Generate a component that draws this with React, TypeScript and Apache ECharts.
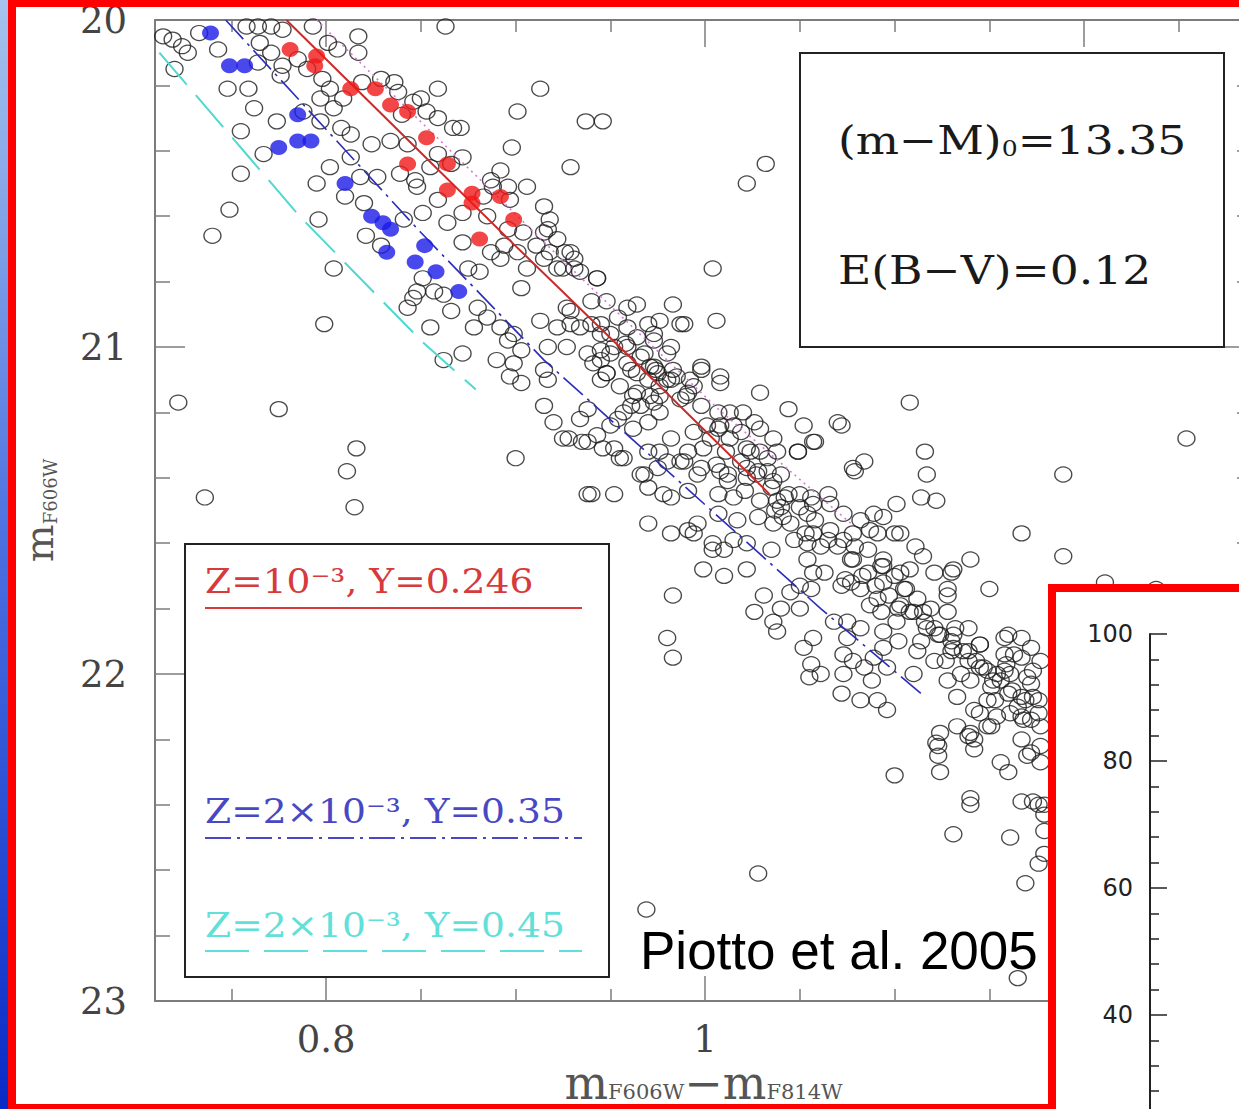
import React, { useEffect, useRef } from "react";
import * as echarts from "echarts";

// ---- axis ticks / labels ----
const xMinorTicks = [0.75, 0.85, 0.9, 0.95, 1.05, 1.1, 1.15, 1.25];
const xMajorTicks = [0.8, 1.0, 1.2];
const xLabelValues = [0.8, 1.0];
const yTickRange = [20, 23];
const insetRange = [0, 100];

// ---- texts ----
const legendLabels = ["Z=10⁻³, Y=0.246", "Z=2×10⁻³, Y=0.35", "Z=2×10⁻³, Y=0.45"];
const annotationLines = ["(m−M){sub|0}=13.35", "E(B−V)=0.12"];
const creditText = "Piotto et al. 2005";

// ---- isochrones [colour, magnitude] ----
const isoRed = [[0.779, 20.0], [0.842, 20.36], [0.898, 20.68], [0.962, 21.04], [1.034, 21.45]];
const isoMagenta = [[0.795, 20.0], [0.924, 20.73], [1.007, 21.19], [1.077, 21.54]];
const isoBlue = [[0.747, 20.0], [0.85, 20.65], [0.915, 21.04], [1.061, 21.8], [1.116, 22.07]];
const isoCyan = [[0.712, 20.1], [0.786, 20.6], [0.85, 20.98], [0.879, 21.13]];

// ---- highlighted stars ----
const redStars = [
  [0.781, 20.09], [0.795, 20.11], [0.794, 20.14], [0.813, 20.21], [0.826, 20.21], [0.834, 20.26],
  [0.843, 20.28], [0.853, 20.36], [0.843, 20.44], [0.864, 20.44], [0.864, 20.52], [0.877, 20.53],
  [0.877, 20.56], [0.892, 20.54], [0.899, 20.61], [0.881, 20.67],
];
const blueStars = [
  [0.739, 20.04], [0.749, 20.14], [0.757, 20.14], [0.785, 20.29], [0.775, 20.39], [0.785, 20.37],
  [0.792, 20.37], [0.81, 20.5], [0.824, 20.6], [0.83, 20.62], [0.834, 20.64], [0.832, 20.71],
  [0.852, 20.69], [0.847, 20.74], [0.858, 20.77], [0.87, 20.83],
];

// ---- all other stars ----
const stars = [
  [0.714, 20.05], [0.719, 20.06], [0.724, 20.08], [0.727, 20.10], [0.720, 20.15], [0.733, 20.04], [0.743, 20.09], [0.748, 20.21], [0.759, 20.21], [0.762, 20.27],
  [0.774, 20.31], [0.755, 20.34], [0.767, 20.41], [0.755, 20.47], [0.749, 20.58], [0.740, 20.66], [0.796, 20.61], [0.804, 20.76], [0.799, 20.93], [0.795, 20.50],
  [0.758, 20.02], [0.764, 20.02], [0.771, 20.02], [0.777, 20.03], [0.793, 20.02], [0.817, 20.05], [0.863, 20.02], [0.817, 20.10], [0.806, 20.09], [0.801, 20.07],
  [0.765, 20.07], [0.771, 20.10], [0.777, 20.14], [0.785, 20.12], [0.790, 20.15], [0.764, 20.13], [0.776, 20.17], [0.798, 20.18], [0.802, 20.21], [0.797, 20.24],
  [0.804, 20.27], [0.809, 20.24], [0.819, 20.19], [0.829, 20.18], [0.836, 20.19], [0.838, 20.22], [0.859, 20.21], [0.850, 20.24], [0.853, 20.28], [0.846, 20.25],
  [0.840, 20.29], [0.859, 20.30], [0.867, 20.33], [0.901, 20.28], [0.913, 20.21], [0.937, 20.31], [0.946, 20.31], [0.929, 20.45], [0.898, 20.39], [0.872, 20.42],
  [0.866, 20.44], [0.859, 20.41], [0.855, 20.45], [0.843, 20.38], [0.834, 20.37], [0.824, 20.38], [0.813, 20.35], [0.808, 20.33], [0.797, 20.31], [0.788, 20.28],
  [0.802, 20.45], [0.813, 20.42], [0.818, 20.48], [0.827, 20.48], [0.810, 20.54], [0.820, 20.56], [0.821, 20.66], [0.829, 20.69], [0.841, 20.61], [0.851, 20.59],
  [0.864, 20.62], [0.839, 20.47], [0.848, 20.51], [0.859, 20.55], [0.872, 20.59], [0.883, 20.54], [0.887, 20.49], [0.892, 20.46], [0.896, 20.51], [0.897, 20.55],
  [0.906, 20.51], [0.915, 20.57], [0.918, 20.61], [0.915, 20.65], [0.904, 20.65], [0.894, 20.69], [0.901, 20.71], [0.911, 20.69], [0.922, 20.67], [0.929, 20.71],
  [0.925, 20.76], [0.915, 20.73], [0.872, 20.68], [0.875, 20.76], [0.881, 20.77], [0.851, 20.79], [0.848, 20.83], [0.903, 20.82], [0.862, 20.84],
  [0.722, 21.17], [0.775, 21.19], [0.736, 21.46], [0.816, 21.31], [0.811, 21.38], [0.815, 21.49],
  [0.846, 20.85], [0.843, 20.88], [0.857, 20.83], [0.855, 20.94], [0.866, 20.89],
  [1.022, 20.50], [1.032, 20.44], [1.004, 20.76], [1.006, 20.92],
  [0.871, 20.33], [0.847, 20.49], [0.888, 20.51], [0.885, 20.60], [0.896, 20.64], [0.917, 20.64], [0.918, 20.71], [0.931, 20.76], [0.922, 20.76], [0.906, 20.76],
  [0.892, 20.73], [0.887, 20.71], [0.880, 20.88], [0.885, 20.91], [0.892, 20.94], [0.899, 20.96], [0.913, 20.92], [0.922, 20.94], [0.929, 20.89], [0.940, 20.93],
  [0.943, 20.79], [0.945, 20.96], [0.952, 21.00], [0.938, 21.02], [0.927, 21.00], [0.917, 21.00], [0.903, 21.01], [0.896, 20.98], [0.878, 20.94], [0.862, 21.04],
  [0.872, 21.02], [0.890, 21.04], [0.964, 20.97], [0.959, 21.00], [0.973, 20.96], [0.987, 20.93], [0.998, 21.06], [1.008, 21.09], [0.971, 21.06], [0.980, 21.02],
  [0.945, 21.04], [0.948, 21.08],
  [0.926, 20.71], [0.931, 20.73], [0.934, 20.77], [0.943, 20.79], [0.948, 20.86], [0.959, 20.88], [0.964, 20.87], [0.954, 20.91], [0.940, 20.86], [0.927, 20.88],
  [0.929, 20.93], [0.934, 20.94], [0.945, 20.93], [0.959, 20.94], [0.970, 20.93], [0.976, 20.92], [0.983, 20.87], [0.989, 20.93], [0.973, 20.98], [0.982, 21.00],
  [0.950, 21.02], [0.941, 21.05], [0.948, 21.08], [0.959, 21.05], [0.968, 21.02], [0.964, 21.08], [0.955, 21.12], [0.945, 21.10], [0.975, 21.08], [0.976, 21.12],
  [0.971, 21.15], [0.962, 21.15], [0.985, 21.09], [0.992, 21.10], [0.998, 21.07], [0.994, 21.12], [1.008, 21.11], [0.987, 21.16], [0.998, 21.18], [1.007, 21.20],
  [1.013, 21.20], [1.020, 21.20], [1.029, 21.14], [1.044, 21.19], [1.019, 21.26], [1.022, 21.31], [1.013, 21.28], [1.007, 21.25], [1.001, 21.24], [0.994, 21.26],
  [0.999, 21.31], [0.991, 21.32], [0.982, 21.28], [0.970, 21.23], [0.976, 21.20], [0.966, 21.18], [0.957, 21.20], [0.950, 21.24], [0.934, 21.22], [0.928, 21.28],
  [0.938, 21.29], [0.946, 21.31], [0.957, 21.34], [0.952, 21.31], [0.968, 21.39], [0.975, 21.37], [0.987, 21.35], [0.998, 21.37], [0.970, 21.43], [0.978, 21.45],
  [0.940, 21.45], [0.952, 21.45], [0.970, 21.54], [0.982, 21.57], [0.991, 21.56], [0.996, 21.54], [1.007, 21.45], [1.015, 21.46], [1.008, 21.38], [1.012, 21.39],
  [1.022, 21.37], [1.029, 21.32], [1.033, 21.38], [1.038, 21.32], [1.036, 21.41], [1.044, 21.45], [1.029, 21.47], [1.040, 21.49], [1.050, 21.45], [1.054, 21.51],
  [1.045, 21.54], [1.036, 21.54], [1.028, 21.52], [1.017, 21.53], [1.049, 21.32], [1.057, 21.29], [1.070, 21.23], [1.078, 21.37], [1.084, 21.35], [1.065, 21.45],
  [1.066, 21.48], [1.073, 21.51], [1.082, 21.53], [1.089, 21.51], [1.057, 21.57], [1.065, 21.59], [1.073, 21.59], [1.078, 21.57], [1.087, 21.56], [1.047, 21.59],
  [1.054, 21.60], [1.004, 21.62], [1.015, 21.59], [1.022, 21.60], [1.035, 21.62],
  [0.899, 21.05], [0.897, 21.09], [0.903, 21.11], [0.915, 21.07], [0.917, 21.10], [0.900, 21.34], [0.915, 21.18], [0.920, 21.23], [0.925, 21.28], [0.935, 21.29],
  [0.938, 21.45], [0.961, 21.18], [0.962, 21.25], [0.954, 21.22], [0.955, 21.34], [0.938, 21.19], [0.943, 21.27], [0.970, 21.32], [0.966, 21.39], [0.976, 21.32],
  [0.980, 21.35], [0.982, 21.46], [0.989, 21.35], [0.996, 21.39], [0.991, 21.44], [1.012, 21.41], [1.007, 21.51], [0.994, 21.57], [1.004, 21.60], [1.010, 21.62],
  [0.999, 21.68], [1.010, 21.70], [1.022, 21.68], [0.983, 21.76], [0.980, 21.89], [0.983, 21.95], [1.031, 21.76], [1.026, 21.81], [1.036, 21.84], [1.040, 21.80],
  [1.045, 21.75], [1.038, 21.87], [1.050, 21.80], [1.052, 21.92], [1.056, 21.97], [1.055, 22.01], [1.057, 21.89], [1.056, 21.74], [1.050, 21.73], [1.057, 21.69],
  [1.057, 21.48], [1.041, 21.52], [1.038, 21.47], [1.028, 21.38], [1.022, 21.40], [1.033, 21.34], [1.036, 21.28], [1.029, 21.25], [1.026, 21.23], [1.015, 21.24],
  [1.049, 21.32], [1.052, 21.24], [0.991, 21.14], [0.973, 21.17], [0.964, 21.14], [0.970, 21.10], [0.980, 21.10], [0.983, 21.07], [0.973, 21.06],
  [1.108, 21.17], [1.072, 21.24], [1.058, 21.29], [1.079, 21.38], [1.116, 21.32], [1.117, 21.39], [1.114, 21.46], [1.122, 21.47], [1.101, 21.48], [1.094, 21.52],
  [1.189, 21.39], [1.254, 21.28], [1.167, 21.57], [1.189, 21.64], [1.150, 21.74], [1.140, 21.65], [1.121, 21.69], [1.130, 21.69], [1.128, 21.74], [1.115, 21.64],
  [1.111, 21.61], [1.100, 21.57], [1.091, 21.57], [1.061, 21.61], [1.070, 21.61], [1.078, 21.65], [1.086, 21.62], [1.094, 21.67], [1.103, 21.69], [1.086, 21.69],
  [1.082, 21.74], [1.072, 21.73], [1.063, 21.69], [1.054, 21.65], [1.091, 21.77], [1.102, 21.80], [1.108, 21.81], [1.117, 21.86], [1.124, 21.88], [1.131, 21.92],
  [1.139, 21.96], [1.145, 21.98], [1.152, 22.02], [1.160, 22.06], [1.165, 22.10], [1.172, 22.14], [1.177, 22.16], [1.158, 21.89], [1.167, 21.89], [1.172, 21.92],
  [1.163, 21.94], [1.173, 21.99], [1.158, 21.99], [1.173, 22.07], [1.149, 22.08], [1.142, 22.11], [1.133, 22.07], [1.133, 22.16], [1.124, 22.18], [1.140, 22.18],
  [1.149, 22.16], [1.128, 22.02], [1.135, 22.00], [1.121, 21.96], [1.112, 21.93], [1.102, 21.90], [1.094, 21.87], [1.082, 21.86], [1.075, 21.84], [1.068, 21.84],
  [1.073, 21.94], [1.078, 21.96], [1.073, 22.00], [1.084, 21.98], [1.110, 22.00], [1.061, 22.00], [1.072, 22.06], [1.082, 22.08], [1.091, 22.08], [1.096, 22.11],
  [1.088, 22.02], [1.096, 21.98],
  [1.103, 21.57], [1.094, 21.65], [1.131, 21.68], [1.108, 21.68], [1.100, 21.70], [1.077, 21.72], [1.094, 21.72], [1.105, 21.74], [1.112, 21.77], [1.128, 21.76],
  [1.115, 21.81], [1.121, 21.86], [1.128, 21.81], [1.131, 21.88], [1.139, 21.86], [1.130, 21.93], [1.139, 21.93], [1.145, 21.91], [1.160, 21.88], [1.158, 21.94],
  [1.167, 21.95], [1.177, 21.96], [1.147, 21.98], [1.154, 22.00], [1.161, 22.00], [1.170, 22.01], [1.151, 22.04], [1.167, 22.07], [1.176, 22.08], [1.145, 22.12],
  [1.154, 22.13], [1.161, 22.12], [1.168, 22.14], [1.151, 22.16], [1.167, 22.20], [1.177, 22.22], [1.170, 22.25], [1.177, 22.27], [1.156, 22.27], [1.160, 22.30],
  [1.142, 22.20], [1.142, 22.23], [1.123, 22.22], [1.123, 22.25], [1.124, 22.30], [1.100, 22.31], [1.140, 22.38], [1.140, 22.40], [1.167, 22.39], [1.173, 22.39],
  [1.179, 22.40], [1.093, 21.81], [1.075, 21.89], [1.089, 21.95], [1.094, 21.92],
  [1.122, 22.21], [1.139, 22.19], [1.131, 22.49], [1.172, 22.24], [1.176, 22.40], [1.179, 22.43], [1.161, 22.50], [1.179, 22.48], [1.176, 22.58], [1.179, 22.55],
  [1.169, 22.64], [1.165, 22.93], [0.969, 22.72], [1.028, 22.61], [1.211, 21.72], [1.238, 21.74],
  // dense main-sequence core
  [1.077, 21.65], [1.083, 21.70], [1.090, 21.73], [1.097, 21.76], [1.103, 21.79], [1.110, 21.81], [1.116, 21.84], [1.123, 21.88], [1.130, 21.90], [1.136, 21.93],
  [1.143, 21.96], [1.149, 21.99], [1.156, 22.02], [1.162, 22.05], [1.169, 22.08], [1.176, 22.12], [1.079, 21.61], [1.093, 21.67], [1.106, 21.74], [1.119, 21.80],
  [1.132, 21.86], [1.145, 21.91], [1.159, 21.97], [1.172, 22.03], [1.074, 21.71], [1.087, 21.79], [1.101, 21.84], [1.114, 21.90], [1.127, 21.96], [1.140, 22.02],
  [1.153, 22.08], [1.167, 22.13], [1.003, 21.28], [1.011, 21.32], [1.019, 21.35], [1.027, 21.39], [1.035, 21.43], [1.042, 21.46], [1.050, 21.49], [1.058, 21.53],
  [1.066, 21.56], [1.008, 21.24], [1.024, 21.32], [1.040, 21.39], [1.056, 21.46], [1.006, 21.36], [1.021, 21.44], [1.037, 21.50], [1.053, 21.57],
  [0.950, 20.96], [0.958, 20.99], [0.966, 21.03], [0.974, 21.07], [0.982, 21.10], [0.990, 21.15], [0.945, 21.01], [0.961, 21.07], [0.976, 21.15],
];

const X_MIN = 0.7097;
const X_MAX = 1.2886;

export default function App() {
  const ref = useRef<HTMLDivElement>(null);

  useEffect(() => {
    if (!ref.current) return;
    const chart = echarts.init(ref.current, null, { renderer: "svg" });
    const serif = "DejaVu Serif";
    const gray = "#7c7c7c";
    const labelGray = "#444";

    const mainX = (position: string, ticks: number[], len: number, showLine: boolean, withLabels: boolean) => ({
      type: "value",
      gridIndex: 0,
      position,
      min: X_MIN,
      max: X_MAX,
      splitLine: { show: false },
      axisLine: { show: showLine, lineStyle: { color: gray, width: 2 } },
      axisTick: { show: true, inside: true, length: len, customValues: ticks, lineStyle: { color: gray, width: 1.5 } },
      axisLabel: withLabels
        ? {
            show: true,
            customValues: xLabelValues,
            margin: 22,
            color: labelGray,
            fontFamily: serif,
            fontSize: 37,
            lineHeight: 32,
            formatter: (v: number) => (Math.abs(v - 1) < 1e-9 ? "1" : String(Math.round(v * 10) / 10)),
          }
        : { show: false },
    });

    const mainY = (position: string, withLabels: boolean) => ({
      type: "value",
      gridIndex: 0,
      position,
      min: yTickRange[0],
      max: yTickRange[1],
      interval: 1,
      inverse: true,
      splitLine: { show: false },
      axisLine: { show: true, lineStyle: { color: gray, width: 2 } },
      axisTick: { show: true, inside: true, length: 30, lineStyle: { color: gray, width: 1.5 } },
      minorTick: { show: true, splitNumber: 5, length: 15, lineStyle: { color: gray, width: 1.5 } },
      axisLabel: withLabels
        ? { show: true, margin: 28, color: labelGray, fontFamily: serif, fontSize: 37 }
        : { show: false },
    });

    const xName = "{m|m}{s|F606W}{m|−m}{s|F814W}";
    const yName = "{m|m}{s|F606W}";
    const xNameRich = {
      m: { fontSize: 46, lineHeight: 38, fontFamily: serif, color: "#555" },
      s: { fontSize: 21, lineHeight: 38, fontFamily: serif, color: "#555", verticalAlign: "bottom" },
    };
    const yNameRich = {
      m: { fontSize: 40, fontFamily: serif, color: "#555" },
      s: { fontSize: 18, fontFamily: serif, color: "#555", verticalAlign: "bottom" },
    };

    const xAxes: any[] = [
      mainX("bottom", xMinorTicks, 12, true, false),
      {
        ...mainX("bottom", xMajorTicks, 25, false, true),
        name: xName,
        nameLocation: "middle",
        nameGap: 63,
        nameMoveOverlap: false,
        nameTextStyle: { rich: xNameRich, lineHeight: 38 },
      },
      mainX("top", xMinorTicks, 12, true, false),
      mainX("top", xMajorTicks, 27, false, false),
      {
        type: "value",
        gridIndex: 1,
        position: "top",
        min: 0,
        max: 10,
        interval: 1,
        z: 60,
        splitLine: { show: false },
        axisLine: { show: true, lineStyle: { color: "#222", width: 2 } },
        axisTick: { show: true, inside: true, length: 8, lineStyle: { color: "#222", width: 1.5 } },
        axisLabel: { show: false },
      },
    ];

    const yAxes: any[] = [
      {
        ...mainY("left", true),
        name: yName,
        nameLocation: "middle",
        nameRotate: 90,
        nameGap: 96,
        nameTextStyle: { rich: yNameRich },
      },
      mainY("right", false),
      {
        type: "value",
        gridIndex: 1,
        position: "left",
        min: insetRange[0],
        max: insetRange[1],
        interval: 20,
        z: 60,
        splitLine: { show: false },
        axisLine: { show: true, lineStyle: { color: "#222", width: 2 } },
        axisTick: { show: true, inside: true, length: 17, lineStyle: { color: "#222", width: 1.5 } },
        minorTick: { show: true, splitNumber: 5, length: 9, lineStyle: { color: "#222", width: 1.5 } },
        axisLabel: {
          show: true,
          margin: 17,
          color: "#222",
          fontFamily: "DejaVu Sans",
          fontSize: 24,
          formatter: (v: number) => (v >= 40 ? String(v) : ""),
        },
      },
    ];

    const lineSeries = (data: number[][], color: string, width: number, type: any) => ({
      type: "line",
      xAxisIndex: 0,
      yAxisIndex: 0,
      data,
      showSymbol: false,
      symbol: "none",
      smooth: false,
      z: 3,
      lineStyle: { color, width, type },
    });

    const legendY = [581, 811, 925];
    const legendLineY = [608, 838, 951];
    const legendColors = ["#d63a3a", "#4848c4", "#5fe0d8"];
    const legendDash: any[] = [null, [26, 6, 3, 6], [44, 15]];

    const graphic: any[] = [
      // inset panel background
      { type: "rect", shape: { x: 1048, y: 584, width: 191, height: 525 }, style: { fill: "#ffffff" }, z: 50 },
      // legend box
      { type: "rect", shape: { x: 185, y: 544, width: 424, height: 433 }, style: { fill: "#ffffff", stroke: "#222", lineWidth: 2 }, z: 40 },
      ...legendLabels.map((t, i) => ({
        type: "text",
        x: 205,
        y: legendY[i],
        scaleX: 1.14,
        z: 41,
        style: { text: t, fill: legendColors[i], font: `33px "${serif}"`, textAlign: "left", textVerticalAlign: "middle" },
      })),
      ...legendLineY.map((y, i) => ({
        type: "line",
        z: 41,
        shape: { x1: 205, y1: y, x2: 582, y2: y },
        style: { stroke: legendColors[i], lineWidth: 2, lineDash: legendDash[i] || undefined },
      })),
      // annotation box
      { type: "rect", shape: { x: 800, y: 53, width: 424, height: 294 }, style: { fill: "#ffffff", stroke: "#222", lineWidth: 2 }, z: 40 },
      ...annotationLines.map((t, i) => ({
        type: "text",
        x: 838,
        y: i === 0 ? 140 : 270,
        scaleX: 1.14,
        z: 41,
        style: {
          text: t,
          fill: "#1a1a1a",
          font: `40px "${serif}"`,
          textAlign: "left",
          textVerticalAlign: "middle",
          rich: {
            sub: { fontSize: 22, fontFamily: serif, fill: "#1a1a1a", verticalAlign: "bottom", padding: [18, 0, 0, 0] },
          },
        },
      })),
      // credit
      {
        type: "text",
        x: 640,
        y: 950,
        z: 45,
        style: { text: creditText, fill: "#000", font: '53px "Liberation Sans"', textAlign: "left", textVerticalAlign: "middle" },
      },
      // slide frame
      {
        type: "rect",
        shape: { x: 0, y: 0, width: 8, height: 1109 },
        style: {
          fill: new echarts.graphic.LinearGradient(0, 0, 0, 1, [
            { offset: 0, color: "#a6c4ec" },
            { offset: 0.5, color: "#4a6ee0" },
            { offset: 1, color: "#0a2ac6" },
          ]),
        },
        z: 100,
      },
      { type: "rect", shape: { x: 8, y: 0, width: 1231, height: 7 }, style: { fill: "#ff0000" }, z: 100 },
      { type: "rect", shape: { x: 8, y: 0, width: 8, height: 1109 }, style: { fill: "#ff0000" }, z: 100 },
      { type: "rect", shape: { x: 8, y: 1104, width: 1048, height: 5 }, style: { fill: "#ff0000" }, z: 100 },
      { type: "rect", shape: { x: 1048, y: 584, width: 8, height: 525 }, style: { fill: "#ff0000" }, z: 100 },
      { type: "rect", shape: { x: 1048, y: 584, width: 191, height: 8 }, style: { fill: "#ff0000" }, z: 100 },
    ];

    const option: any = {
      animation: false,
      backgroundColor: "#ffffff",
      grid: [
        { left: 155, top: 20, width: 1097, height: 981, containLabel: false, outerBoundsMode: "none" },
        { left: 1150, top: 634, width: 267, height: 635, containLabel: false, outerBoundsMode: "none" },
      ],
      xAxis: xAxes,
      yAxis: yAxes,
      series: [
        {
          type: "scatter",
          xAxisIndex: 0,
          yAxisIndex: 0,
          data: stars,
          symbol: "circle",
          symbolSize: [17, 15],
          z: 2,
          itemStyle: { color: "rgba(255,255,255,0)", borderColor: "#1c1c1c", borderWidth: 1.3 },
        },
        lineSeries(isoMagenta, "#d67ad6", 1.6, [2, 4]),
        lineSeries(isoCyan, "#4fd8d0", 2, [42, 14]),
        lineSeries(isoBlue, "#2c2cbc", 1.6, [26, 6, 3, 6]),
        lineSeries(isoRed, "#cc2a2a", 2, "solid"),
        {
          type: "scatter",
          xAxisIndex: 0,
          yAxisIndex: 0,
          data: redStars,
          symbol: "circle",
          symbolSize: [17, 15],
          z: 4,
          itemStyle: { color: "#f01818" },
        },
        {
          type: "scatter",
          xAxisIndex: 0,
          yAxisIndex: 0,
          data: blueStars,
          symbol: "circle",
          symbolSize: [17, 15],
          z: 4,
          itemStyle: { color: "#1a1ae8" },
        },
      ],
      graphic,
    };

    chart.setOption(option);
    return () => chart.dispose();
  }, []);

  return (
    <div
      ref={ref}
      style={{ position: "absolute", left: 0, top: 0, width: 1239, height: 1109, background: "#fff" }}
    />
  );
}
